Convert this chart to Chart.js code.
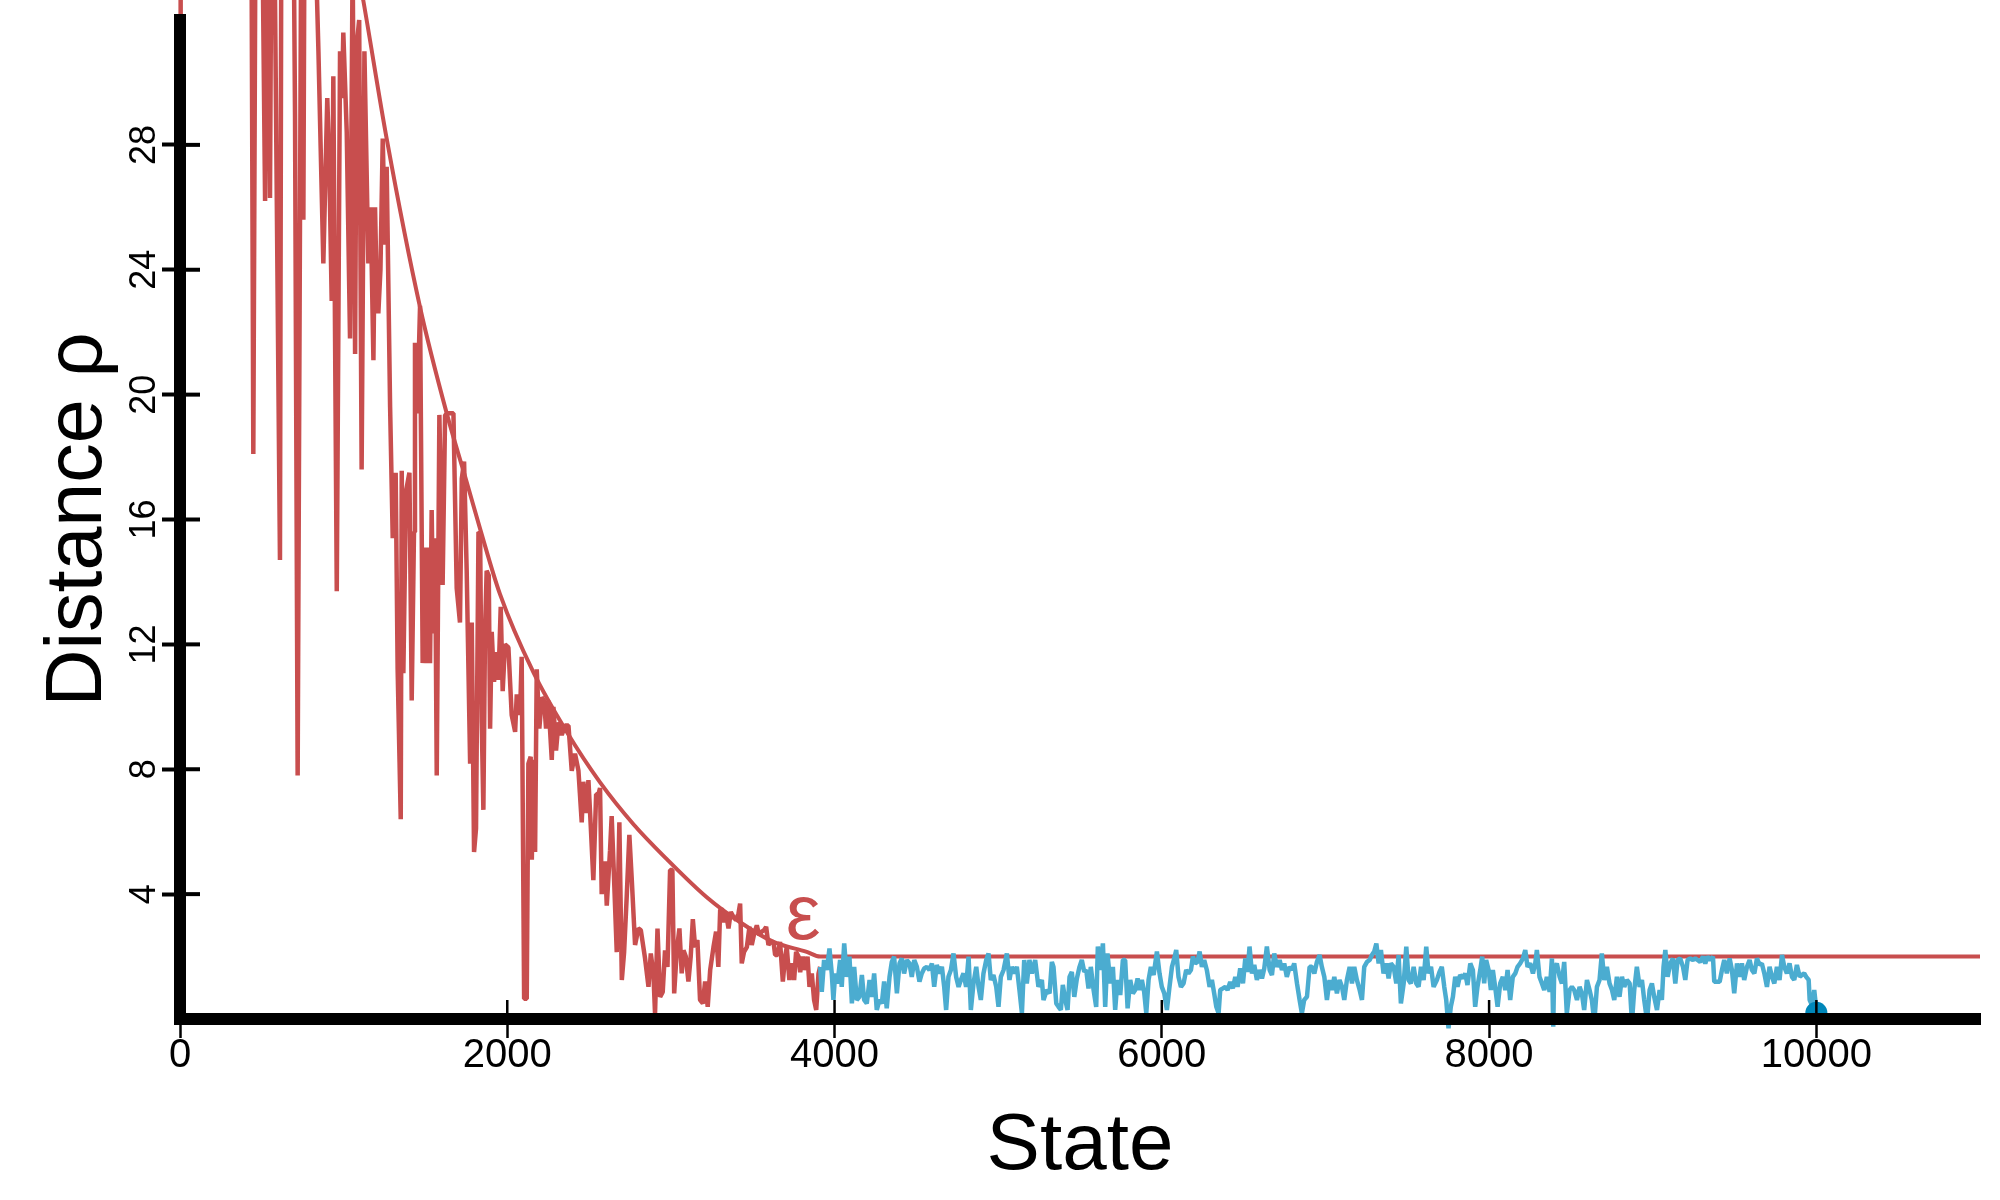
<!DOCTYPE html>
<html>
<head>
<meta charset="utf-8">
<title>Distance per state</title>
<script src="https://cdn.jsdelivr.net/npm/chart.js@4.4.1/dist/chart.umd.min.js"></script>
<style>
  html, body { margin: 0; padding: 0; background: #fff; }
  #chart { display: block; }
</style>
</head>
<body>
<canvas id="chart" width="2000" height="1200"></canvas>
<script>
  // search phase (red); first values sit above the plot
  const redStates = [0, 4, 150, 300, 430, 448, 465, 505, 520, 535, 550, 565, 611, 623, 690, 703, 719, 740, 754, 764,
    820, 846, 876, 900, 912, 927, 937, 958, 978, 990, 998, 1019, 1039, 1055, 1070, 1080, 1095, 1110, 1127, 1151,
    1165, 1182, 1192, 1200, 1212, 1225, 1239, 1253, 1263, 1284, 1300, 1318, 1330, 1349, 1355, 1365, 1381, 1402, 1416, 1430,
    1436, 1450, 1467, 1483, 1497, 1508, 1518, 1528, 1538, 1548, 1559, 1569, 1585, 1605, 1620, 1640, 1671, 1691, 1711, 1722,
    1736, 1752, 1773, 1783, 1797, 1809, 1824, 1834, 1844, 1854, 1864, 1874, 1887, 1895, 1905, 1919, 1936, 1946, 1960, 1972,
    1986, 2007, 2027, 2048, 2058, 2078, 2088, 2103, 2119, 2129, 2143, 2150, 2160, 2170, 2180, 2196, 2211, 2225, 2237, 2251,
    2272, 2282, 2298, 2313, 2333, 2353, 2374, 2394, 2414, 2435, 2455, 2465, 2482, 2496, 2510, 2526, 2543, 2557, 2567, 2577,
    2598, 2608, 2628, 2638, 2649, 2669, 2685, 2700, 2714, 2730, 2746, 2761, 2781, 2801, 2816, 2842, 2863, 2877, 2893, 2903,
    2918, 2934, 2950, 2964, 2979, 2995, 3009, 3020, 3036, 3052, 3066, 3077, 3091, 3107, 3121, 3134, 3148, 3162, 3178, 3195,
    3209, 3225, 3240, 3260, 3276, 3290, 3301, 3311, 3325, 3337, 3352, 3366, 3382, 3398, 3413, 3423, 3433, 3447, 3464, 3480,
    3494, 3509, 3525, 3539, 3555, 3570, 3582, 3596, 3610, 3627, 3637, 3651, 3667, 3684, 3698, 3708, 3724, 3739, 3753, 3765,
    3780, 3790, 3806, 3820, 3835, 3847, 3861, 3875, 3888, 3902, 3912];
  const redDistance = [30, 60, 52, 48, 45, 18.1, 40, 34, 26.2, 38, 26.3, 42, 14.7, 45, 38, 28.9, 7.8, 34, 25.6, 40,
    36, 31.0, 24.2, 29.5, 27.5, 23.0, 30.2, 13.7, 31.0, 29.5, 31.6, 28.4, 21.8, 34, 21.3, 31.2, 32, 17.6, 31.0, 24.2,
    26.0, 21.1, 26.0, 23.9, 22.6, 24.0, 28.2, 24.8, 27.3, 19.6, 15.4, 17.5, 11.2, 6.4, 17.56, 11.08, 16.9, 17.5, 10.2, 15.6,
    21.66, 19.4, 22.85, 11.4, 15.1, 11.4, 15.1, 11.4, 16.3, 12.35, 15.4, 7.8, 19.35, 13.9, 19.35, 19.4, 19.4, 13.8, 12.7, 17.3,
    17.86, 14.36, 8.18, 12.7, 5.35, 6.1, 15.6, 15.55, 9.5, 6.7, 12.4, 14.36, 14.2, 9.3, 12.4, 10.8, 11.75, 10.86, 13.2, 10.5,
    12.0, 11.9, 9.74, 9.2, 10.4, 9.74, 11.6, 0.65, 0.65, 8.18, 8.4, 5.1, 8.3, 5.35, 11.2, 9.3, 10.3, 10.2, 9.3, 10.2,
    8.3, 10.0, 8.6, 9.5, 9.1, 9.4, 9.4, 7.95, 8.5, 7.95, 6.3, 7.6, 6.6, 7.65, 6.2, 4.45, 7.2, 7.2, 7.4, 4.0,
    5.05, 3.63, 5.4, 6.5, 5.0, 2.14, 6.3, 1.25, 2.14, 3.93, 5.9, 4.45, 2.37, 2.9, 2.85, 1.94, 1.03, 2.1, 1.46, 0.18,
    2.9, 0.71, 0.87, 2.2, 1.67, 4.77, 4.77, 0.82, 2.2, 2.9, 1.46, 2.2, 2.0, 1.2, 2.0, 3.2, 2.3, 2.53, 0.61, 0.5,
    1.2, 0.39, 1.57, 2.3, 2.8, 1.67, 3.49, 3.54, 3.1, 3.38, 2.9, 3.43, 3.27, 3.17, 3.38, 3.7, 1.78, 2.15, 2.3, 2.95,
    2.37, 2.74, 3.0, 2.69, 2.8, 2.85, 2.95, 2.37, 2.47, 2.47, 2.05, 2.05, 2.47, 1.2, 2.0, 2.3, 1.25, 1.78, 1.25, 2.15,
    2.0, 1.5, 2.0, 1.57, 2.0, 1.03, 1.46, 0.61, 0.29, 1.46, 1.67];

  // states after the threshold is reached (blue)
  const blueStates = [3912, 3922, 3936, 3953, 3969, 3983, 3993, 4004, 4018, 4034, 4044, 4059, 4075, 4091, 4106, 4120, 4136, 4152, 4167, 4181,
    4197, 4214, 4228, 4242, 4258, 4275, 4289, 4303, 4319, 4336, 4350, 4364, 4381, 4397, 4411, 4425, 4442, 4458, 4472, 4487,
    4503, 4519, 4533, 4548, 4564, 4580, 4595, 4609, 4625, 4641, 4656, 4670, 4682, 4696, 4711, 4727, 4743, 4758, 4772, 4788,
    4804, 4819, 4833, 4849, 4866, 4880, 4894, 4910, 4927, 4941, 4955, 4971, 4988, 5002, 5016, 5033, 5053, 5069, 5083, 5098,
    5114, 5130, 5145, 5159, 5175, 5191, 5206, 5226, 5246, 5267, 5277, 5297, 5314, 5328, 5338, 5355, 5369, 5383, 5395, 5410,
    5424, 5436, 5450, 5465, 5481, 5497, 5511, 5526, 5538, 5552, 5566, 5583, 5599, 5609, 5624, 5640, 5654, 5668, 5685, 5701,
    5715, 5729, 5746, 5762, 5776, 5791, 5807, 5823, 5837, 5852, 5864, 5878, 5892, 5905, 5919, 5933, 5950, 5970, 5986, 6000,
    6015, 6031, 6047, 6062, 6076, 6088, 6102, 6117, 6133, 6149, 6163, 6178, 6190, 6204, 6218, 6231, 6245, 6259, 6275, 6292,
    6306, 6320, 6333, 6347, 6357, 6373, 6388, 6402, 6418, 6434, 6449, 6463, 6479, 6496, 6510, 6524, 6536, 6551, 6565, 6581,
    6597, 6612, 6626, 6642, 6659, 6673, 6687, 6703, 6720, 6734, 6748, 6764, 6781, 6795, 6809, 6826, 6842, 6856, 6870, 6887,
    6903, 6917, 6932, 6948, 6964, 6978, 6993, 7009, 7025, 7040, 7054, 7070, 7086, 7101, 7115, 7131, 7148, 7162, 7176, 7192,
    7209, 7223, 7237, 7254, 7270, 7284, 7298, 7311, 7325, 7339, 7355, 7372, 7386, 7400, 7417, 7433, 7447, 7461, 7478, 7494,
    7508, 7522, 7539, 7555, 7569, 7584, 7600, 7616, 7630, 7645, 7661, 7681, 7697, 7711, 7726, 7738, 7752, 7766, 7779, 7793,
    7807, 7823, 7840, 7854, 7868, 7885, 7901, 7915, 7929, 7946, 7958, 7970, 7982, 7997, 8011, 8023, 8037, 8052, 8068, 8084,
    8099, 8113, 8129, 8145, 8160, 8174, 8190, 8207, 8221, 8235, 8251, 8268, 8282, 8292, 8308, 8323, 8337, 8353, 8370, 8384,
    8392, 8398, 8414, 8431, 8445, 8459, 8475, 8492, 8506, 8520, 8537, 8553, 8567, 8581, 8598, 8614, 8628, 8643, 8659, 8675,
    8689, 8704, 8720, 8736, 8751, 8765, 8781, 8797, 8812, 8826, 8842, 8859, 8873, 8887, 8903, 8920, 8934, 8948, 8965, 8981,
    8995, 9009, 9026, 9042, 9056, 9066, 9077, 9091, 9107, 9123, 9138, 9152, 9168, 9185, 9199, 9213, 9229, 9246, 9260, 9274,
    9290, 9307, 9321, 9335, 9352, 9368, 9376, 9392, 9409, 9423, 9437, 9453, 9470, 9484, 9498, 9515, 9531, 9545, 9559, 9576,
    9592, 9606, 9621, 9637, 9653, 9667, 9682, 9698, 9714, 9729, 9743, 9759, 9775, 9790, 9804, 9820, 9836, 9851, 9865, 9881,
    9898, 9912, 9926, 9938, 9953, 9959, 9973, 9987, 10000];
  const blueDistance = [1.67, 0.87, 1.89, 1.57, 2.26, 1.46, 0.61, 1.46, 1.14, 1.89, 1.03, 2.42, 1.35, 2.0, 0.5, 1.67, 0.61, 0.71, 1.41, 0.61,
    0.5, 1.25, 0.71, 1.46, 0.29, 0.61, 0.5, 1.2, 0.34, 1.35, 1.83, 2.0, 0.82, 1.78, 1.94, 1.46, 1.89, 1.78, 1.35, 1.89,
    1.67, 1.2, 1.46, 1.62, 1.67, 1.57, 1.78, 1.03, 1.73, 1.46, 1.67, 1.03, 0.29, 1.35, 1.57, 2.1, 1.35, 1.03, 1.25, 1.46,
    1.03, 2.0, 0.29, 1.14, 1.67, 1.03, 0.61, 1.46, 1.89, 2.1, 1.25, 1.41, 1.03, 0.39, 1.35, 1.57, 2.1, 1.25, 1.67, 1.46,
    1.67, 0.93, 0.18, 1.89, 1.14, 1.89, 1.46, 1.89, 1.03, 1.25, 0.61, 0.93, 0.82, 1.83, 1.67, 0.5, 0.39, 0.29, 1.09, 0.61,
    0.29, 1.35, 1.51, 0.71, 1.3, 1.67, 1.89, 1.51, 1.57, 0.98, 1.67, 0.93, 0.39, 2.32, 1.57, 2.42, 0.39, 2.1, 1.14, 1.67,
    0.29, 1.25, 0.77, 1.89, 1.89, 0.34, 1.25, 0.82, 0.93, 1.3, 0.93, 1.25, 0.87, 0.18, 1.25, 1.67, 1.41, 2.16, 1.46, 1.03,
    0.82, 0.29, 1.03, 1.67, 1.94, 2.21, 1.35, 1.03, 1.14, 1.57, 1.46, 1.57, 2.0, 1.78, 1.83, 2.16, 1.67, 1.89, 1.57, 1.03,
    1.25, 0.82, 0.39, 0.18, 0.93, 0.98, 1.03, 0.93, 1.19, 0.98, 1.35, 1.03, 1.62, 1.14, 1.94, 1.51, 2.32, 1.46, 1.73, 1.25,
    1.57, 1.3, 1.62, 2.32, 1.57, 1.41, 2.1, 1.67, 1.89, 1.57, 1.78, 1.35, 1.67, 1.57, 1.78, 1.14, 0.61, 0.18, 0.61, 0.71,
    1.67, 1.67, 1.46, 1.83, 2.05, 1.67, 1.35, 0.61, 1.25, 0.93, 1.35, 0.82, 1.25, 1.03, 0.61, 1.25, 1.67, 1.14, 1.67, 1.25,
    0.93, 0.61, 1.67, 1.83, 1.89, 2.05, 2.16, 2.42, 1.78, 2.21, 1.46, 1.78, 1.3, 1.78, 1.67, 1.14, 2.05, 0.5, 1.14, 2.32,
    1.25, 1.14, 1.67, 1.14, 1.03, 1.67, 1.25, 2.32, 1.46, 1.67, 1.03, 1.25, 1.51, 1.67, 1.03, 0.61, -0.3, 0.39, 0.71, 1.35,
    1.03, 1.41, 1.3, 1.46, 1.09, 1.78, 1.57, 0.39, 1.03, 1.57, 2.0, 1.14, 1.89, 1.57, 0.93, 1.57, 1.03, 0.39, 1.14, 1.35,
    0.93, 1.57, 0.61, 1.35, 1.46, 1.67, 1.78, 1.94, 2.21, 1.67, 1.78, 1.46, 1.78, 2.21, 1.35, 1.14, 0.93, 1.35, 0.87, 1.94,
    -0.25, 1.57, 1.78, 1.35, 1.14, 1.83, 0.18, 0.93, 1.03, 0.93, 0.61, 1.03, 0.82, 0.29, 1.25, 0.93, 0.61, -0.1, 1.03, 1.25,
    2.1, 1.25, 1.67, 1.14, 0.93, 0.61, 1.35, 0.71, 1.35, 1.03, 1.25, 1.14, -0.1, 0.93, 1.67, 1.03, 1.25, 0.61, -0.05, 0.93,
    1.14, 0.71, 0.29, 0.93, 0.61, 1.67, 2.21, 1.35, 1.78, 1.94, 1.14, 1.89, 1.94, 1.67, 1.25, 1.89, 1.94, 1.89, 1.94, 1.89,
    1.83, 2.0, 1.78, 2.0, 1.89, 2.0, 1.19, 1.19, 1.19, 1.57, 1.89, 1.46, 1.94, 1.57, 0.82, 1.78, 1.35, 1.78, 1.25, 1.67,
    1.89, 1.57, 1.46, 1.94, 1.73, 1.78, 1.46, 1.03, 1.67, 1.35, 1.14, 1.67, 1.25, 2.05, 1.67, 1.46, 1.78, 1.35, 1.25, 1.73,
    1.35, 1.41, 1.46, 1.35, 1.25, 0.61, 0.45, 0.93, 0.29];

  // threshold epsilon
  const epsStates = [1090, 1121, 1263, 1467, 1630, 1752, 1834, 1956, 2160, 2363, 2567, 2771, 2975, 3219, 3423, 3627, 3830, 3912, 11000];
  const epsValues = [33.5, 32.6, 28.2, 22.8, 19.4, 17.2, 15.7, 13.6, 11.1, 9.2, 7.58, 6.24, 5.12, 3.9, 3.1, 2.47, 2.15, 2.0, 2.0];

  // last state reached
  const endStates = [10000];
  const endDistance = [0.2];

  const xTicks = [0, 2000, 4000, 6000, 8000, 10000];
  const yTicks = [4, 8, 12, 16, 20, 24, 28];

  const epsLabel = 'ε';
  const epsLabelState = 3808;
  const epsLabelValue = 2.56;

  const RED = '#c84e4e';
  const BLUE = '#4bacd0';
  const DOT = '#0087b9';

  function toPoints(xs, ys) {
    return xs.map((x, i) => ({ x: x, y: ys[i] }));
  }

  // tick marks cross the axis line, Chart.js only draws the outer half
  const crossTicks = {
    id: 'crossTicks',
    afterDraw(chart) {
      const ctx = chart.ctx;
      const x = chart.scales.x;
      const y = chart.scales.y;
      ctx.save();
      ctx.strokeStyle = '#000';
      ctx.lineWidth = 2.5;
      xTicks.forEach(v => {
        const px = x.getPixelForValue(v);
        ctx.beginPath();
        ctx.moveTo(px, y.bottom);
        ctx.lineTo(px, y.bottom - 19);
        ctx.stroke();
      });
      ctx.lineWidth = 4;
      yTicks.forEach(v => {
        const py = y.getPixelForValue(v);
        ctx.beginPath();
        ctx.moveTo(x.left, py);
        ctx.lineTo(x.left + 20, py);
        ctx.stroke();
      });
      // fill the corner where the two axis lines meet
      ctx.fillStyle = '#000';
      ctx.fillRect(x.left - 6, y.bottom - 6, 12, 12);

      ctx.fillStyle = RED;
      ctx.font = "78px 'Liberation Sans', Arial, sans-serif";
      ctx.textAlign = 'center';
      ctx.textBaseline = 'alphabetic';
      ctx.fillText(epsLabel, x.getPixelForValue(epsLabelState), y.getPixelForValue(epsLabelValue));
      ctx.restore();
    }
  };

  Chart.defaults.font.family = "'Liberation Sans', Arial, sans-serif";
  Chart.defaults.color = '#000';

  const ctx = document.getElementById('chart').getContext('2d');
  new Chart(ctx, {
    type: 'line',
    data: {
      datasets: [
        {
          label: 'end',
          data: toPoints(endStates, endDistance),
          showLine: false,
          pointRadius: 11,
          pointBackgroundColor: DOT,
          pointBorderColor: DOT,
          pointBorderWidth: 0,
          clip: false
        },
        {
          label: 'after threshold',
          data: toPoints(blueStates, blueDistance),
          borderColor: BLUE,
          borderWidth: 4.5,
          borderJoinStyle: 'bevel',
          pointRadius: 0,
          clip: false
        },
        {
          label: 'epsilon',
          data: toPoints(epsStates, epsValues),
          borderColor: RED,
          borderWidth: 4,
          cubicInterpolationMode: 'monotone',
          pointRadius: 0,
          clip: false
        },
        {
          label: 'search',
          data: toPoints(redStates, redDistance),
          borderColor: RED,
          borderWidth: 4.5,
          borderJoinStyle: 'bevel',
          pointRadius: 0,
          clip: false
        }
      ]
    },
    options: {
      responsive: false,
      animation: false,
      layout: { padding: { top: 20, right: 20, bottom: 0, left: 0 } },
      plugins: {
        legend: { display: false },
        tooltip: { enabled: false }
      },
      scales: {
        x: {
          type: 'linear',
          min: 0,
          max: 11000,
          afterFit: (scale) => { scale.height = 181; },
          afterBuildTicks: (scale) => { scale.ticks = xTicks.map(v => ({ value: v })); },
          border: { display: true, color: '#000', width: 12, z: 2 },
          grid: { drawOnChartArea: false, drawTicks: true, tickLength: 19, tickWidth: 2.5, tickColor: '#000', z: 1 },
          ticks: {
            font: { size: 40 },
            color: '#000',
            padding: -6,
            maxRotation: 0,
            minRotation: 0,
            autoSkip: false,
            z: 2,
            callback: (v) => String(v)
          },
          title: {
            display: true,
            text: 'State',
            color: '#000',
            font: { size: 80 },
            padding: { top: 0, bottom: 5 }
          }
        },
        y: {
          type: 'linear',
          min: 0,
          max: 32,
          afterFit: (scale) => { scale.width = 180; },
          afterBuildTicks: (scale) => { scale.ticks = yTicks.map(v => ({ value: v })); },
          border: { display: true, color: '#000', width: 12, z: 2 },
          grid: { drawOnChartArea: false, drawTicks: true, tickLength: 18, tickWidth: 4, tickColor: '#000', z: 1 },
          ticks: {
            font: { size: 36 },
            color: '#000',
            padding: -3,
            crossAlign: 'center',
            minRotation: 90,
            maxRotation: 90,
            z: 2,
            callback: (v) => String(v)
          },
          title: {
            display: true,
            text: 'Distance ρ',
            color: '#000',
            font: { size: 79 },
            padding: { top: 32, bottom: 0 }
          }
        }
      }
    },
    plugins: [crossTicks]
  });
</script>
</body>
</html>
